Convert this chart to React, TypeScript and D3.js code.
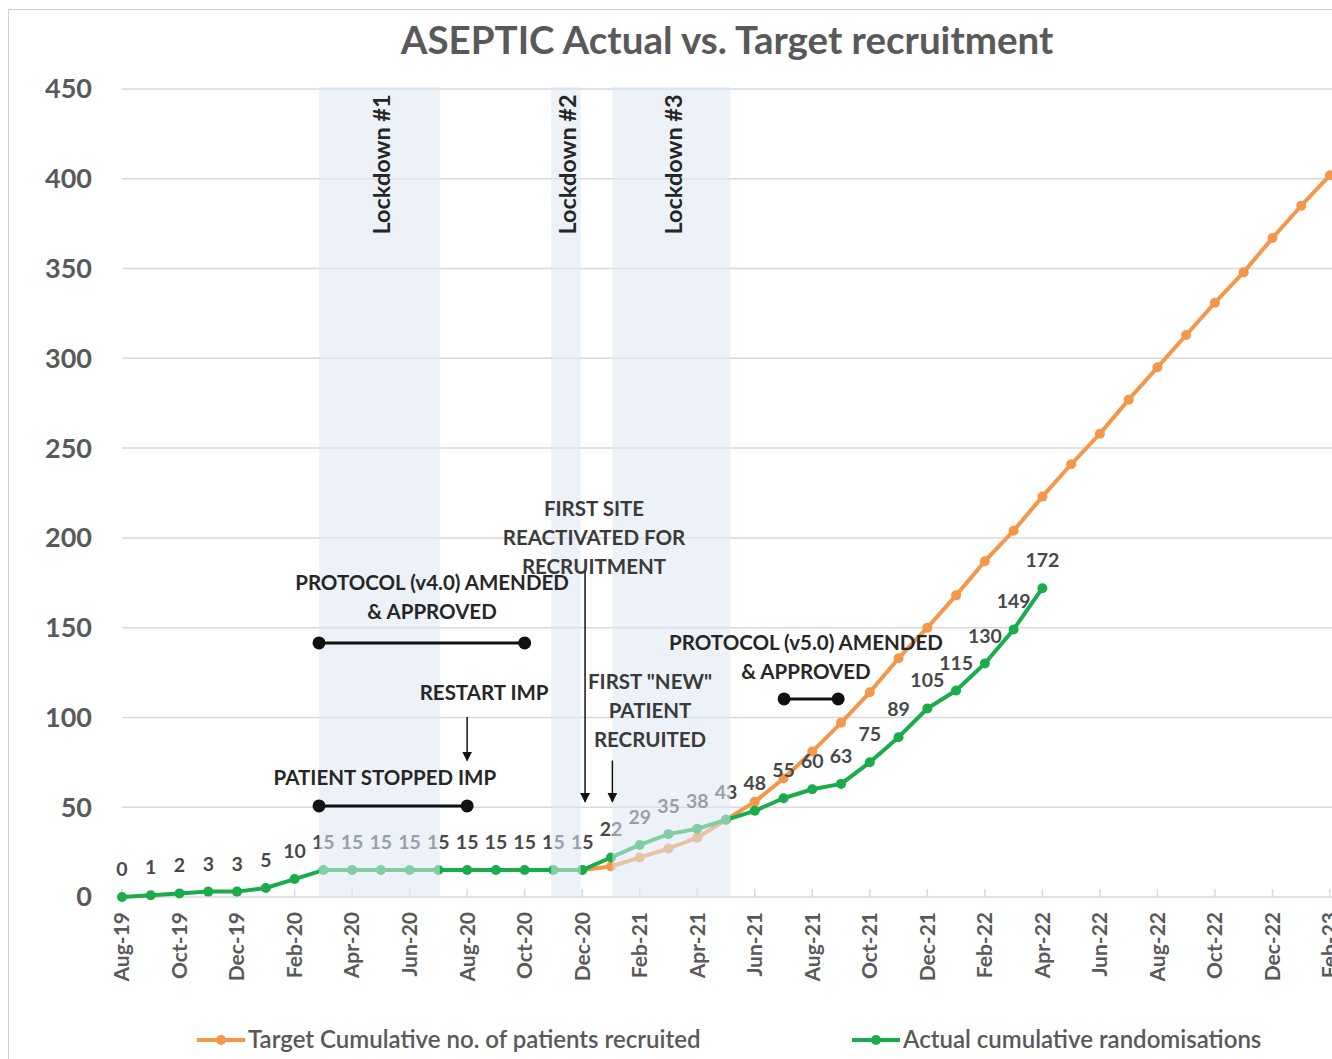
import { useRef, useEffect } from "react";
import * as d3 from "d3";

const months = [
  "Aug-19", "Sep-19", "Oct-19", "Nov-19", "Dec-19", "Jan-20", "Feb-20", "Mar-20", "Apr-20", "May-20",
  "Jun-20", "Jul-20", "Aug-20", "Sep-20", "Oct-20", "Nov-20", "Dec-20", "Jan-21", "Feb-21", "Mar-21",
  "Apr-21", "May-21", "Jun-21", "Jul-21", "Aug-21", "Sep-21", "Oct-21", "Nov-21", "Dec-21", "Jan-22",
  "Feb-22", "Mar-22", "Apr-22", "May-22", "Jun-22", "Jul-22", "Aug-22", "Sep-22", "Oct-22", "Nov-22",
  "Dec-22", "Jan-23", "Feb-23",
];

// actual cumulative randomisations, Aug-19 .. Apr-22
const actual = [
  0, 1, 2, 3, 3, 5, 10, 15, 15, 15, 15, 15, 15, 15, 15, 15, 15,
  22, 29, 35, 38, 43, 48, 55, 60, 63, 75, 89, 105, 115, 130, 149, 172,
];

// target cumulative, starts Dec-20
const targetStart = 16;
const target = [
  15, 17, 22, 27, 33, 43, 53, 66, 81, 97, 114, 133, 150, 168, 187, 204, 223,
  241, 258, 277, 295, 313, 331, 348, 367, 385, 402,
];

const yTicks = [0, 50, 100, 150, 200, 250, 300, 350, 400, 450];

// lockdown periods, in month-index units
const lockdowns = [
  { label: "Lockdown #1", from: 6.85, to: 11.05 },
  { label: "Lockdown #2", from: 14.92, to: 15.95 },
  { label: "Lockdown #3", from: 17.05, to: 21.15 },
];

// text annotations (x in month index, y in value of first line centre)
const notes = [
  { lines: ["PROTOCOL (v4.0) AMENDED", "& APPROVED"], x: 10.78, y: 175, color: "#262626" },
  { lines: ["PATIENT STOPPED IMP"], x: 9.14, y: 66.3, color: "#262626" },
  { lines: ["RESTART IMP"], x: 12.59, y: 113.6, color: "#262626" },
  { lines: ["FIRST SITE", "REACTIVATED FOR", "RECRUITMENT"], x: 16.41, y: 216, color: "#3a3a3a" },
  { lines: ['FIRST "NEW"', "PATIENT", "RECRUITED"], x: 18.36, y: 119.7, color: "#3a3a3a" },
  { lines: ["PROTOCOL (v5.0) AMENDED", "& APPROVED"], x: 23.78, y: 141.5, color: "#262626" },
];

// dumbbell periods
const periods = [
  { from: 6.85, to: 14, y: 141.5 },
  { from: 6.85, to: 12, y: 50.7 },
  { from: 23.02, to: 24.9, y: 110.3 },
];

// arrows pointing down
const arrows = [
  { x: 12, from: 100.2, to: 76 },
  { x: 16.1, from: 182, to: 53 },
  { x: 17.05, from: 76, to: 53 },
];

const ORANGE = "#f4974a";
const GREEN = "#1aab4b";
const FONT = "Lato, 'Open Sans', sans-serif";

export default function App() {
  const svgRef = useRef<SVGSVGElement>(null);

  useEffect(() => {
    const svg = d3.select(svgRef.current);
    svg.selectAll("*").remove();

    const width = 1332;
    const height = 1059;

    const x = d3.scaleLinear().domain([0, months.length - 1]).range([122, 1330]);
    const y = d3.scaleLinear().domain([0, 450]).range([897, 89]);

    svg.attr("width", width).attr("height", height).style("font-family", FONT);

    svg.append("rect").attr("width", width).attr("height", height).attr("fill", "#fff");

    const defs = svg.append("defs");
    defs.append("marker")
      .attr("id", "arrowHead")
      .attr("viewBox", "0 0 10 10")
      .attr("refX", 9)
      .attr("refY", 5)
      .attr("markerWidth", 10)
      .attr("markerHeight", 10)
      .attr("markerUnits", "userSpaceOnUse")
      .attr("orient", "auto")
      .append("path")
      .attr("d", "M0,0 L10,5 L0,10 Z")
      .attr("fill", "#111");

    // chart border
    svg.append("rect")
      .attr("x", 8.5)
      .attr("y", 9.5)
      .attr("width", width)
      .attr("height", height)
      .attr("fill", "none")
      .attr("stroke", "#d0d0d0");

    // Title
    svg.append("text")
      .attr("x", 727)
      .attr("y", 54)
      .attr("text-anchor", "middle")
      .attr("font-size", 38.5)
      .attr("font-weight", "bold")
      .attr("fill", "#595959")
      .text("ASEPTIC Actual vs. Target recruitment");

    // gridlines + y labels
    svg.append("g")
      .selectAll("line")
      .data(yTicks)
      .join("line")
      .attr("x1", x(0))
      .attr("x2", width)
      .attr("y1", d => y(d))
      .attr("y2", d => y(d))
      .attr("stroke", "#d9d9d9")
      .attr("stroke-width", 1.5);

    svg.append("g")
      .selectAll("text")
      .data(yTicks)
      .join("text")
      .attr("x", 92)
      .attr("y", d => y(d))
      .attr("dy", "0.35em")
      .attr("text-anchor", "end")
      .attr("font-size", 27)
      .attr("font-weight", "bold")
      .attr("fill", "#595959")
      .text(d => d);

    // x ticks and labels, every second month
    const labelled = months.map((m, i) => ({ m, i })).filter(d => d.i % 2 === 0);
    svg.append("g")
      .selectAll("line")
      .data(labelled)
      .join("line")
      .attr("x1", d => x(d.i))
      .attr("x2", d => x(d.i))
      .attr("y1", y(0) - 8)
      .attr("y2", y(0))
      .attr("stroke", "#d9d9d9")
      .attr("stroke-width", 1.5);

    svg.append("g")
      .selectAll("text")
      .data(labelled)
      .join("text")
      .attr("transform", d => `translate(${x(d.i)},${y(0) + 15}) rotate(-90)`)
      .attr("dy", "0.35em")
      .attr("text-anchor", "end")
      .attr("font-size", 21)
      .attr("font-weight", "bold")
      .attr("fill", "#595959")
      .text(d => d.m);

    // series
    const line = d3.line<number>()
      .x((_, i) => x(i))
      .y(d => y(d));

    const targetPts = target.map((v, i) => ({ i: i + targetStart, v }));
    svg.append("path")
      .datum(targetPts)
      .attr("fill", "none")
      .attr("stroke", ORANGE)
      .attr("stroke-width", 4)
      .attr("stroke-linejoin", "round")
      .attr("d", d3.line<{ i: number; v: number }>().x(d => x(d.i)).y(d => y(d.v)));
    svg.append("g")
      .selectAll("circle")
      .data(targetPts)
      .join("circle")
      .attr("cx", d => x(d.i))
      .attr("cy", d => y(d.v))
      .attr("r", 5)
      .attr("fill", ORANGE);

    svg.append("path")
      .datum(actual)
      .attr("fill", "none")
      .attr("stroke", GREEN)
      .attr("stroke-width", 4)
      .attr("stroke-linejoin", "round")
      .attr("d", line);
    svg.append("g")
      .selectAll("circle")
      .data(actual)
      .join("circle")
      .attr("cx", (_, i) => x(i))
      .attr("cy", d => y(d))
      .attr("r", 5)
      .attr("fill", GREEN);

    // data labels
    svg.append("g")
      .selectAll("text")
      .data(actual)
      .join("text")
      .attr("x", (_, i) => x(i))
      .attr("y", d => y(d) - 21)
      .attr("text-anchor", "middle")
      .attr("font-size", 19.5)
      .attr("font-weight", "bold")
      .attr("fill", "#484848")
      .text(d => d);

    // lockdown shading over the lines
    const lg = svg.append("g");
    lg.selectAll("rect")
      .data(lockdowns)
      .join("rect")
      .attr("x", d => x(d.from))
      .attr("width", d => x(d.to) - x(d.from))
      .attr("y", y(450) - 2)
      .attr("height", y(0) - y(450) + 2)
      .attr("fill", "#dde7f3")
      .attr("opacity", 0.55);
    lg.selectAll("text")
      .data(lockdowns)
      .join("text")
      .attr("transform", d => `translate(${x((d.from + d.to) / 2) + 2},${y(447)}) rotate(-90)`)
      .attr("dy", "0.35em")
      .attr("text-anchor", "end")
      .attr("font-size", 23.5)
      .attr("font-weight", "bold")
      .attr("fill", "#262626")
      .text(d => d.label);

    // dumbbells
    const pg = svg.append("g");
    periods.forEach(p => {
      pg.append("line")
        .attr("x1", x(p.from))
        .attr("x2", x(p.to))
        .attr("y1", y(p.y))
        .attr("y2", y(p.y))
        .attr("stroke", "#111")
        .attr("stroke-width", 3);
      [p.from, p.to].forEach(v => {
        pg.append("circle").attr("cx", x(v)).attr("cy", y(p.y)).attr("r", 6.5).attr("fill", "#111");
      });
    });

    // arrows
    svg.append("g")
      .selectAll("line")
      .data(arrows)
      .join("line")
      .attr("x1", d => x(d.x))
      .attr("x2", d => x(d.x))
      .attr("y1", d => y(d.from))
      .attr("y2", d => y(d.to))
      .attr("stroke", "#111")
      .attr("stroke-width", 1.5)
      .attr("marker-end", "url(#arrowHead)");

    // annotation text
    const ng = svg.append("g");
    notes.forEach(n => {
      n.lines.forEach((t, k) => {
        ng.append("text")
          .attr("x", x(n.x))
          .attr("y", y(n.y) + k * 29)
          .attr("dy", "0.35em")
          .attr("text-anchor", "middle")
          .attr("font-size", 20.5)
          .attr("font-weight", "bold")
          .attr("fill", n.color)
          .text(t);
      });
    });

    // legend
    const legend = [
      { label: "Target Cumulative no. of patients recruited", color: ORANGE, x0: 197 },
      { label: "Actual cumulative randomisations", color: GREEN, x0: 852 },
    ];
    const leg = svg.append("g");
    legend.forEach(l => {
      leg.append("line")
        .attr("x1", l.x0)
        .attr("x2", l.x0 + 48)
        .attr("y1", 1040)
        .attr("y2", 1040)
        .attr("stroke", l.color)
        .attr("stroke-width", 4);
      leg.append("circle").attr("cx", l.x0 + 24).attr("cy", 1040).attr("r", 5).attr("fill", l.color);
      leg.append("text")
        .attr("x", l.x0 + 51)
        .attr("y", 1040)
        .attr("dy", "0.35em")
        .attr("font-size", 24)
        .attr("font-weight", 600)
        .attr("fill", "#595959")
        .text(l.label);
    });
  }, []);

  return (
    <svg
      ref={svgRef}
      style={{ position: "absolute", left: 0, top: 0, display: "block" }}
    />
  );
}
